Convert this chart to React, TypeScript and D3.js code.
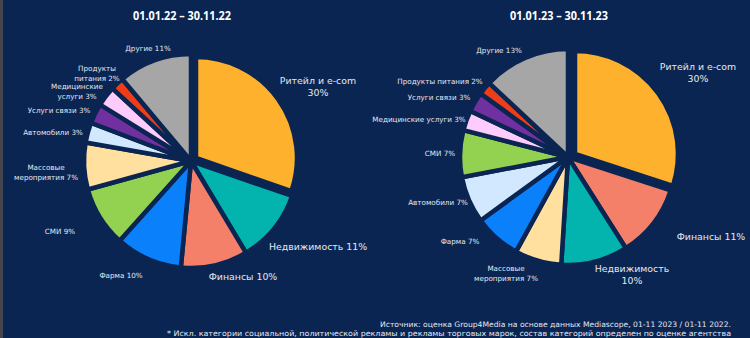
import React from "react";
import * as d3 from "d3";

// ---------- DATA ----------
const titles = ["01.01.22 – 30.11.22", "01.01.23 – 30.11.23"];

const categories2022 = [
  "Ритейл и e-com",
  "Недвижимость",
  "Финансы",
  "Фарма",
  "СМИ",
  "Массовые мероприятия",
  "Автомобили",
  "Услуги связи",
  "Медицинские услуги",
  "Продукты питания",
  "Другие",
];
const values2022 = [30, 11, 10, 10, 9, 7, 3, 3, 3, 2, 11];

const categories2023 = [
  "Ритейл и e-com",
  "Финансы",
  "Недвижимость",
  "Массовые мероприятия",
  "Фарма",
  "Автомобили",
  "СМИ",
  "Медицинские услуги",
  "Услуги связи",
  "Продукты питания",
  "Другие",
];
const values2023 = [30, 11, 10, 7, 7, 7, 7, 3, 3, 2, 13];

const footnoteSource =
  "Источник: оценка Group4Media на основе данных Mediascope, 01-11 2023 / 01-11 2022.";
const footnoteExcl =
  "* Искл. категории социальной, политической рекламы и рекламы торговых марок, состав категорий определен по оценке агентства";

// ---------- STYLE ----------
const BG = "#0b2552";
const TEXT = "#e4e8f0";
const categoryColors: Record<string, string> = {
  "Ритейл и e-com": "#fdb12c",
  "Недвижимость": "#02b3ae",
  "Финансы": "#f4806a",
  "Фарма": "#0a80fb",
  "СМИ": "#93d150",
  "Массовые мероприятия": "#ffe09e",
  "Автомобили": "#d2e8fe",
  "Услуги связи": "#7030a0",
  "Медицинские услуги": "#fecbfd",
  "Продукты питания": "#ef3d18",
  "Другие": "#a6a6a6",
};

// label layout (absolute positions, lines, size) per pie, by category
type LabelLayout = { x: number; y: number; lines: string[]; big?: boolean };
const labels2022: Record<string, LabelLayout> = {
  "Ритейл и e-com": { x: 318, y: 84, lines: ["Ритейл и e-com", "30%"], big: true },
  "Недвижимость": { x: 318, y: 250, lines: ["Недвижимость 11%"], big: true },
  "Финансы": { x: 243, y: 280, lines: ["Финансы 10%"], big: true },
  "Фарма": { x: 121, y: 278, lines: ["Фарма 10%"] },
  "СМИ": { x: 60, y: 234, lines: ["СМИ 9%"] },
  "Массовые мероприятия": { x: 46, y: 170, lines: ["Массовые", "мероприятия 7%"] },
  "Автомобили": { x: 53, y: 135, lines: ["Автомобили 3%"] },
  "Услуги связи": { x: 59, y: 113, lines: ["Услуги связи 3%"] },
  "Медицинские услуги": { x: 77, y: 89, lines: ["Медицинские", "услуги 3%"] },
  "Продукты питания": { x: 97, y: 71, lines: ["Продукты", "питания 2%"] },
  "Другие": { x: 148, y: 51, lines: ["Другие 11%"] },
};
const labels2023: Record<string, LabelLayout> = {
  "Ритейл и e-com": { x: 698, y: 70, lines: ["Ритейл и e-com", "30%"], big: true },
  "Финансы": { x: 711, y: 240, lines: ["Финансы 11%"], big: true },
  "Недвижимость": { x: 632, y: 272, lines: ["Недвижимость", "10%"], big: true },
  "Массовые мероприятия": { x: 506, y: 271, lines: ["Массовые", "мероприятия 7%"] },
  "Фарма": { x: 460, y: 244, lines: ["Фарма 7%"] },
  "Автомобили": { x: 438, y: 205, lines: ["Автомобили 7%"] },
  "СМИ": { x: 440, y: 156, lines: ["СМИ 7%"] },
  "Медицинские услуги": { x: 419, y: 122, lines: ["Медицинские услуги 3%"] },
  "Услуги связи": { x: 439, y: 100, lines: ["Услуги связи 3%"] },
  "Продукты питания": { x: 440, y: 84, lines: ["Продукты питания 2%"] },
  "Другие": { x: 499, y: 53, lines: ["Другие 13%"] },
};

type PieCfg = {
  cx: number;
  cy: number;
  r: number;
  rExploded: number;
  offset: [number, number];
  categories: string[];
  values: number[];
  labels: Record<string, LabelLayout>;
  title: string;
  titleX: number;
};

const pies: PieCfg[] = [
  {
    cx: 191, cy: 161, r: 107, rExploded: 101, offset: [5, -3],
    categories: categories2022, values: values2022, labels: labels2022,
    title: titles[0], titleX: 182,
  },
  {
    cx: 568, cy: 157, r: 108, rExploded: 103, offset: [7, -3],
    categories: categories2023, values: values2023, labels: labels2023,
    title: titles[1], titleX: 559,
  },
];

const FONT = "'DejaVu Sans', 'Noto Sans', sans-serif";
const TITLE_FONT = "'Open Sans', 'Noto Sans', sans-serif";

function Pie({ cfg }: { cfg: PieCfg }) {
  const arcsData = d3
    .pie<number>()
    .sort(null)
    .value((d) => d)(cfg.values);
  const arcGen = d3.arc<d3.PieArcDatum<number>>().innerRadius(0);
  return (
    <g>
      <text
        x={cfg.titleX}
        y={19.5}
        textAnchor="middle"
        fill="#ffffff"
        fontFamily={TITLE_FONT}
        fontWeight="bold"
        fontSize={13}
        textLength={98}
        lengthAdjust="spacingAndGlyphs"
      >
        {cfg.title}
      </text>
      <g transform={`translate(${cfg.cx},${cfg.cy})`}>
        {arcsData.map((a, i) => {
          const exploded = i === 0;
          const path = arcGen.outerRadius(exploded ? cfg.rExploded : cfg.r)(a) || "";
          const t = exploded ? `translate(${cfg.offset[0]},${cfg.offset[1]})` : undefined;
          return (
            <path
              key={i}
              d={path}
              transform={t}
              fill={categoryColors[cfg.categories[i]]}
              stroke={BG}
              strokeWidth={4.5}
              strokeLinejoin="miter"
            />
          );
        })}
      </g>
      {cfg.categories.map((c, i) => {
        const L = cfg.labels[c];
        const fs = L.big ? 9.4 : 7.2;
        const lh = L.big ? 12 : 9.5;
        return (
          <text
            key={"l" + i}
            x={L.x}
            y={L.y}
            textAnchor="middle"
            fill={TEXT}
            fontFamily={FONT}
            fontSize={fs}
          >
            {L.lines.map((ln, j) => (
              <tspan key={j} x={L.x} dy={j === 0 ? 0 : lh}>
                {ln}
              </tspan>
            ))}
          </text>
        );
      })}
    </g>
  );
}

export default function App() {
  return (
    <svg
      width={750}
      height={338}
      style={{ position: "absolute", left: 0, top: 0, display: "block" }}
    >
      <rect x={0} y={0} width={750} height={338} fill={BG} />
      <rect x={0} y={0} width={3} height={338} fill="#43464c" />
      {pies.map((p, i) => (
        <Pie key={i} cfg={p} />
      ))}
      <text
        x={731}
        y={327}
        textAnchor="end"
        fill={TEXT}
        fontFamily={FONT}
        fontSize={7.5}
        textLength={351}
        lengthAdjust="spacingAndGlyphs"
      >
        {footnoteSource}
      </text>
      <text
        x={731}
        y={336}
        textAnchor="end"
        fill={TEXT}
        fontFamily={FONT}
        fontSize={7.5}
        textLength={564}
        lengthAdjust="spacingAndGlyphs"
      >
        {footnoteExcl}
      </text>
    </svg>
  );
}
